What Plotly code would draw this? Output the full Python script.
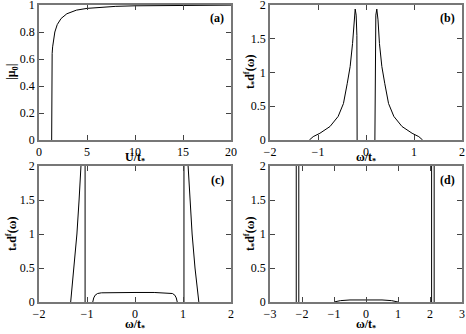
import plotly.graph_objects as go
from plotly.subplots import make_subplots

# (a) order parameter vs U/t*
U_a = [1.32, 1.32, 1.34, 1.37, 1.42, 1.5, 1.65, 1.9, 2.3, 2.9, 3.9, 5.0, 6.5, 8.0, 10.0, 13.0, 16.0, 20.0]
mu_a = [0.0, 0.45, 0.58, 0.64, 0.69, 0.74, 0.80, 0.855, 0.90, 0.935, 0.962, 0.975, 0.985, 0.99, 0.994, 0.997, 0.998, 0.999]

# (b) spectral function
w_b = [-1.18, -1.1, -0.96, -0.75, -0.58, -0.47, -0.39, -0.33, -0.28, -0.25, -0.225, -0.205, -0.19, -0.185, None,
       0.185, 0.19, 0.205, 0.225, 0.25, 0.28, 0.33, 0.39, 0.47, 0.58, 0.75, 0.96, 1.1, 1.18]
d_b = [0.0, 0.05, 0.1, 0.2, 0.35, 0.54, 0.84, 1.09, 1.43, 1.78, 1.94, 1.85, 1.55, 0.0, None,
       0.0, 1.55, 1.85, 1.94, 1.78, 1.43, 1.09, 0.84, 0.54, 0.35, 0.2, 0.1, 0.05, 0.0]

# (c) spectral function
w_c = [-1.34, -1.27, -1.21, -1.165, -1.125, -1.11, None, -1.04, -1.04, None,
       -0.88, -0.86, -0.83, -0.78, -0.7, -0.4, 0.0, 0.4, 0.7, 0.78, 0.83, 0.86, 0.88, None,
       1.02, 1.02, None, 1.09, 1.105, 1.145, 1.19, 1.25, 1.33]
d_c = [0.0, 0.5, 1.0, 1.5, 2.0, 2.2, None, 2.2, 0.0, None,
       0.0, 0.06, 0.1, 0.125, 0.135, 0.14, 0.14, 0.14, 0.135, 0.125, 0.1, 0.06, 0.0, None,
       0.0, 2.2, None, 2.2, 2.0, 1.5, 1.0, 0.5, 0.0]

# (d) spectral function
w_d = [-2.18, -2.18, None, -2.1, -2.1, None, -1.0, -0.8, -0.5, 0.0, 0.5, 0.8, 1.0, None,
       2.05, 2.05, None, 2.13, 2.13]
d_d = [2.2, 0.0, None, 0.0, 2.2, None, 0.0, 0.02, 0.03, 0.033, 0.03, 0.02, 0.0, None,
       2.2, 0.0, None, 0.0, 2.2]

# tick values
ticks_U = [0, 5, 10, 15, 20]
ticks_mu = [0, 0.2, 0.4, 0.6, 0.8, 1]
ticks_w2 = [-2, -1, 0, 1, 2]
ticks_w3 = [-3, -2, -1, 0, 1, 2, 3]
ticks_d = [0, 0.5, 1, 1.5, 2]

fig = make_subplots(rows=2, cols=2)
line = dict(color="black", width=1)
fig.add_trace(go.Scatter(x=U_a, y=mu_a, mode="lines", line=line), row=1, col=1)
fig.add_trace(go.Scatter(x=w_b, y=d_b, mode="lines", line=line), row=1, col=2)
fig.add_trace(go.Scatter(x=w_c, y=d_c, mode="lines", line=line), row=2, col=1)
fig.add_trace(go.Scatter(x=w_d, y=d_d, mode="lines", line=line), row=2, col=2)

serif = "'Liberation Serif', 'DejaVu Serif', serif"
common = dict(showgrid=False, zeroline=False, showline=True, linecolor="#777", linewidth=1.5,
              mirror="ticks", ticks="inside", ticklen=5, tickcolor="#444", automargin=False,
              ticklabeloverflow="allow",
              tickfont=dict(family=serif, size=12, color="black"))

xl, xr = [39 / 466, 231 / 466], [270 / 466, 462 / 466]
yt, yb = [(334 - 140) / 334, (334 - 5) / 334], [(334 - 302) / 334, (334 - 166) / 334]

fig.update_layout(
    font=dict(family=serif),
    xaxis=dict(common, domain=xl, range=[0, 20], tickvals=ticks_U),
    yaxis=dict(common, domain=yt, range=[0, 1], tickvals=ticks_mu),
    xaxis2=dict(common, domain=xr, range=[-2, 2], tickvals=ticks_w2),
    yaxis2=dict(common, domain=yt, range=[0, 2], tickvals=ticks_d),
    xaxis3=dict(common, domain=xl, range=[-2, 2], tickvals=ticks_w2),
    yaxis3=dict(common, domain=yb, range=[0, 2], tickvals=ticks_d),
    xaxis4=dict(common, domain=xr, range=[-3, 3], tickvals=ticks_w3),
    yaxis4=dict(common, domain=yb, range=[0, 2], tickvals=ticks_d),
    width=466, height=334, margin=dict(l=0, r=0, t=0, b=0),
    paper_bgcolor="white", plot_bgcolor="white", showlegend=False,
)

tf = dict(family=serif, size=12, color="black")
xt_u = "<b>U/t<sub>*</sub></b>"
xt_w = "<b>ω/t<sub>*</sub></b>"
yt_d = "<b>t<sub>*</sub>d<sup>f</sup>(ω)</b>"
yt_mu = "<b>|μ<sub>0</sub>|</b>"

# axis titles placed in pixel terms of the paper
for txt, px, py in [(xt_u, 135, 158), (xt_w, 366, 158), (xt_w, 135, 325), (xt_w, 366, 325)]:
    fig.add_annotation(text=txt, xref="paper", yref="paper", x=px / 466, y=1 - py / 334,
                       xanchor="center", yanchor="middle", showarrow=False, font=tf)
for txt, px, py in [(yt_mu, 12, 72), (yt_d, 250, 72), (yt_d, 12, 234), (yt_d, 250, 234)]:
    fig.add_annotation(text=txt, xref="paper", yref="paper", x=px / 466, y=1 - py / 334,
                       xanchor="center", yanchor="middle", showarrow=False, font=tf, textangle=-90)

for ref, lab in [("", "(a)"), ("2", "(b)"), ("3", "(c)"), ("4", "(d)")]:
    fig.add_annotation(text="<b>" + lab + "</b>", xref="x" + ref + " domain", yref="y" + ref + " domain",
                       x=0.975, y=0.9, xanchor="right", yanchor="middle", showarrow=False,
                       font=dict(family=serif, size=12, color="black"))

# drop the default page margin so the figure sits at the window origin
fig.write_html("out.html", config={"displayModeBar": False},
               post_script="document.body.style.margin='0';")
